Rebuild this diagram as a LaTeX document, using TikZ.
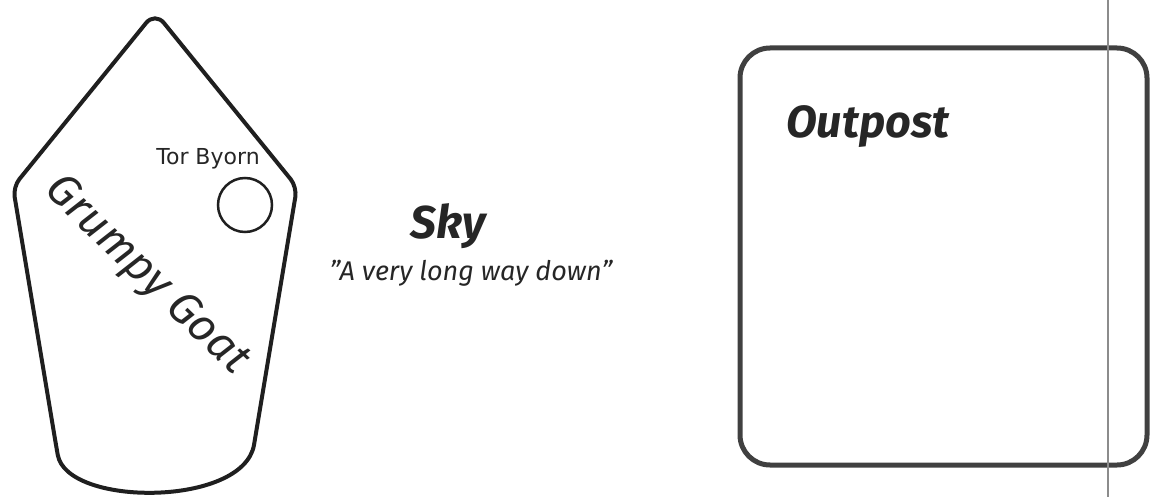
\documentclass[tikz,border=0pt]{standalone}
\usepackage{fontspec}
\setmainfont{Fira Sans}
\newfontfamily\labelfont{DejaVu Sans}
\begin{document}
\begin{tikzpicture}[x=1pt,y=-1pt,
  hand/.style={font=\itshape, text=black!85, inner sep=0pt},
  shipline/.style={draw=black!88, line width=4pt, line join=round},
  boxline/.style={draw=black!75, line width=5pt, rounded corners=30pt}]
\useasboundingbox (0,0) rectangle (1151,497);
% ship
\draw[shipline] (254,445) [rounded corners=10pt] -- (297,187) [rounded corners=14pt] -- (155,12) [rounded corners=10pt] -- (13,187) -- (56,445) [sharp corners]
   .. controls (67,507) and (243,507) .. (254,445) -- cycle;
\node[hand, font=\fontsize{45}{50}\selectfont\itshape, rotate=-44] (goat) at (146,276) {Grumpy Goat};
\node[inner sep=0pt, anchor=base, font=\labelfont\fontsize{22}{26}\selectfont, text=black!85] (tor) at (208,165) {Tor Byorn};
\node[circle, draw=black!88, line width=2.5pt, minimum size=54pt, inner sep=0pt] (torc) at (245,205) {};
% sky
\node[hand, anchor=base, font=\fontsize{46}{50}\selectfont\bfseries\itshape] (sky) at (448,238) {Sky};
\node[hand, anchor=base, font=\fontsize{27}{30}\selectfont\itshape] (quote) at (471,280) {\symbol{34}A very long way down\symbol{34}};
% outpost
\draw[boxline] (740,48) rectangle (1147,465);
\node[hand, anchor=base west, font=\fontsize{45}{48}\selectfont\bfseries\itshape] (outpost) at (786,138) {Outpost};
\draw[draw=black!45, line width=2pt] (1108,0) -- (1108,497);
\end{tikzpicture}
\end{document}
